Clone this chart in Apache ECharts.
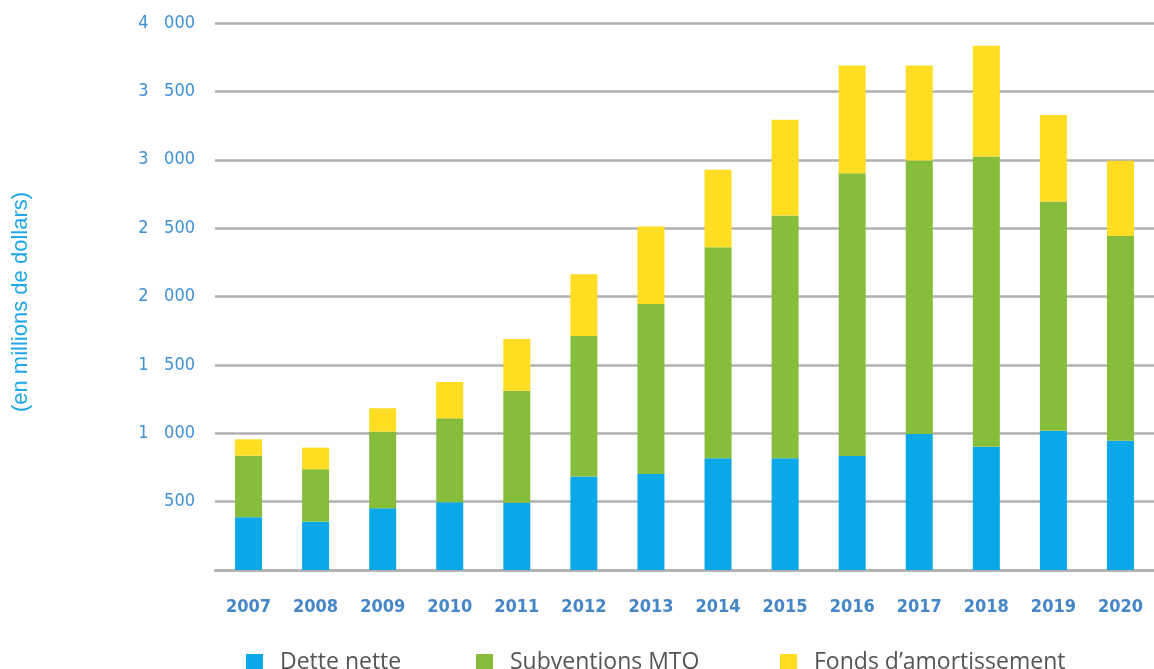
<!DOCTYPE html>
<html>
<head>
<meta charset="utf-8">
<script src="https://cdn.jsdelivr.net/npm/echarts@6/dist/echarts.min.js"></script>
<style>
html,body{margin:0;padding:0;background:#fff;}
#chart{width:1154px;height:669px;}
</style>
</head>
<body>
<div id="chart"></div>
<script>
var categories = ['2007','2008','2009','2010','2011','2012','2013','2014','2015','2016','2017','2018','2019','2020'];
var detteNette = [385, 353, 451, 495, 492, 683, 702, 817, 817, 834, 995, 902, 1019, 946];
var subventionsMTQ = [451, 384, 561, 615, 818, 1029, 1244, 1544, 1775, 2068, 1999, 2121, 1675, 1497];
var fondsAmortissement = [120, 158, 171, 265, 380, 451, 566, 565, 700, 788, 696, 810, 634, 549];
var seriesNames = ['Dette nette', 'Subventions MTQ', 'Fonds d\u2019amortissement'];
var axisTitle = '(en millions de dollars)';

var colors = ['#0aa8e8', '#86be3b', '#fedd22'];
var chart = echarts.init(document.getElementById('chart'));

function fmt(v) {
  if (v === 0) return '';
  var s = String(v);
  if (v >= 1000) return s.slice(0, s.length - 3) + '   ' + s.slice(s.length - 3);
  return s;
}

function legendAt(idx, left) {
  return {
    data: [seriesNames[idx]],
    left: left,
    top: 651,
    itemWidth: 17,
    itemHeight: 17,
    icon: 'rect',
    padding: 0,
    textStyle: {
      fontFamily: 'Open Sans',
      fontSize: 23,
      color: '#555',
      padding: [0, 0, 0, 12]
    }
  };
}

chart.setOption({
  animation: false,
  color: colors,
  legend: [legendAt(0, 246), legendAt(1, 476), legendAt(2, 780)],
  grid: { left: 215, top: 23, width: 946, bottom: 99, containLabel: false },
  xAxis: {
    type: 'category',
    data: categories,
    axisTick: { show: false },
    axisLine: { lineStyle: { color: '#b0b0b0', width: 2.5 } },
    axisLabel: {
      margin: 28,
      fontFamily: 'DejaVu Sans Condensed',
      fontWeight: 'bold',
      fontSize: 18,
      color: '#4486c6'
    }
  },
  yAxis: {
    type: 'value',
    min: 0,
    max: 4000,
    interval: 500,
    name: axisTitle,
    nameLocation: 'middle',
    nameGap: 183,
    nameTextStyle: {
      fontFamily: 'Liberation Sans',
      fontSize: 22,
      color: '#1ea6e6',
      padding: [0, 11, 0, 0]
    },
    axisLine: { show: false },
    axisTick: { show: false },
    splitLine: { lineStyle: { color: '#b0b0b0', width: 2.5 } },
    axisLabel: {
      margin: 20,
      formatter: fmt,
      fontFamily: 'DejaVu Sans Condensed',
      fontSize: 18,
      color: '#3f90d6'
    }
  },
  series: [
    { name: seriesNames[0], type: 'bar', stack: 'total', barWidth: 27, data: detteNette },
    { name: seriesNames[1], type: 'bar', stack: 'total', barWidth: 27, data: subventionsMTQ },
    { name: seriesNames[2], type: 'bar', stack: 'total', barWidth: 27, data: fondsAmortissement }
  ]
});
</script>
</body>
</html>
